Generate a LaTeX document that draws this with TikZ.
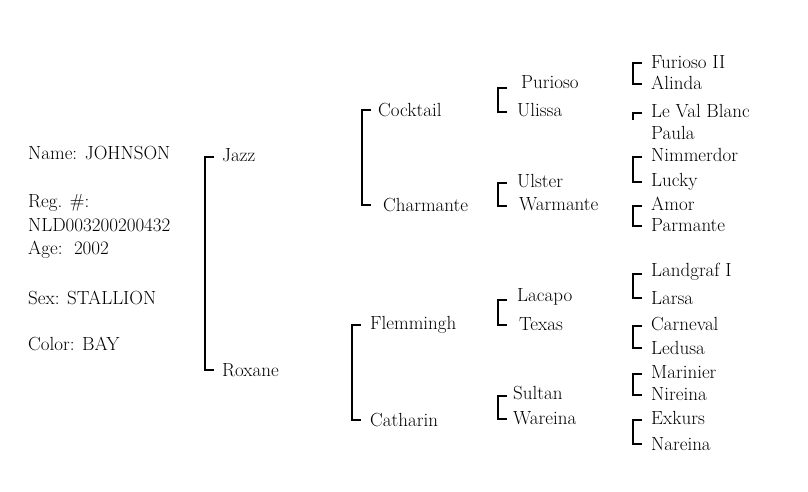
\documentclass[tikz,border=0pt]{standalone}
\begin{document}
\begin{tikzpicture}[x=1pt,y=-1pt,
  lbl/.style={anchor=west,inner sep=0pt,font=\fontsize{19}{20}\selectfont},
  br/.style={draw=black,line width=1.1pt}]
\useasboundingbox[fill=white] (0,0) rectangle (808,491);
% info
\node[lbl] (nm) at (28,153) {Name: JOHNSON};
\node[lbl] (rg) at (28,203) {Reg. \#:};
\node[lbl] (rn) at (28,225) {NLD003200200432};
\node[lbl] (ag) at (28,250) {Age:\ \ 2002};
\node[lbl] (sx) at (28,298) {Sex: STALLION};
\node[lbl] (cl) at (28,344) {Color: BAY};
\newcommand\pbr[3]{\draw[br] (#1+9,#2) -- (#1,#2) -- (#1,#3) -- (#1+9,#3);}
% gen 1
\node[lbl] (a1) at (222,155) {Jazz};
\node[lbl] (a2) at (222,370) {Roxane};
\pbr{205}{157}{370}
% gen 2
\node[lbl] (b1) at (378,110) {Cocktail};
\node[lbl] (b2) at (383,205) {Charmante};
\pbr{362}{110}{205}
\node[lbl] (b3) at (370,325) {Flemmingh};
\node[lbl] (b4) at (370,420) {Catharin};
\pbr{352}{325}{420}
% gen 3
\node[lbl] (c1) at (521,82) {Purioso};
\node[lbl] (c2) at (517,110) {Ulissa};
\pbr{498}{88}{112}
\node[lbl] (c3) at (517,181) {Ulster};
\node[lbl] (c4) at (519,204) {Warmante};
\pbr{498}{183}{206}
\node[lbl] (c5) at (517,297) {Lacapo};
\node[lbl] (c6) at (519,324) {Texas};
\pbr{498}{300}{325}
\node[lbl] (c7) at (513,393) {Sultan};
\node[lbl] (c8) at (513,418) {Wareina};
\pbr{498}{396}{419}
% gen 4
\node[lbl] (d1) at (651,62) {Furioso II};
\node[lbl] (d2) at (651,83) {Alinda};
\pbr{633}{63}{84}
\node[lbl] (d3) at (651,111) {Le Val Blanc};
\node[lbl] (d4) at (651,133) {Paula};
\draw[br] (642,113) -- (633,113) -- (633,120);
\node[lbl] (d5) at (651,155) {Nimmerdor};
\node[lbl] (d6) at (651,182) {Lucky};
\pbr{633}{157}{182}
\node[lbl] (d7) at (651,204) {Amor};
\node[lbl] (d8) at (651,225) {Parmante};
\pbr{633}{206}{226}
\node[lbl] (d9) at (651,272) {Landgraf I};
\node[lbl] (d10) at (651,298) {Larsa};
\pbr{633}{274}{298}
\node[lbl] (d11) at (651,324) {Carneval};
\node[lbl] (d12) at (651,348) {Ledusa};
\pbr{633}{326}{348}
\node[lbl] (d13) at (651,372) {Marinier};
\node[lbl] (d14) at (651,394) {Nireina};
\pbr{633}{374}{395}
\node[lbl] (d15) at (651,418) {Exkurs};
\node[lbl] (d16) at (651,444) {Nareina};
\pbr{633}{420}{444}
\end{tikzpicture}
\end{document}
